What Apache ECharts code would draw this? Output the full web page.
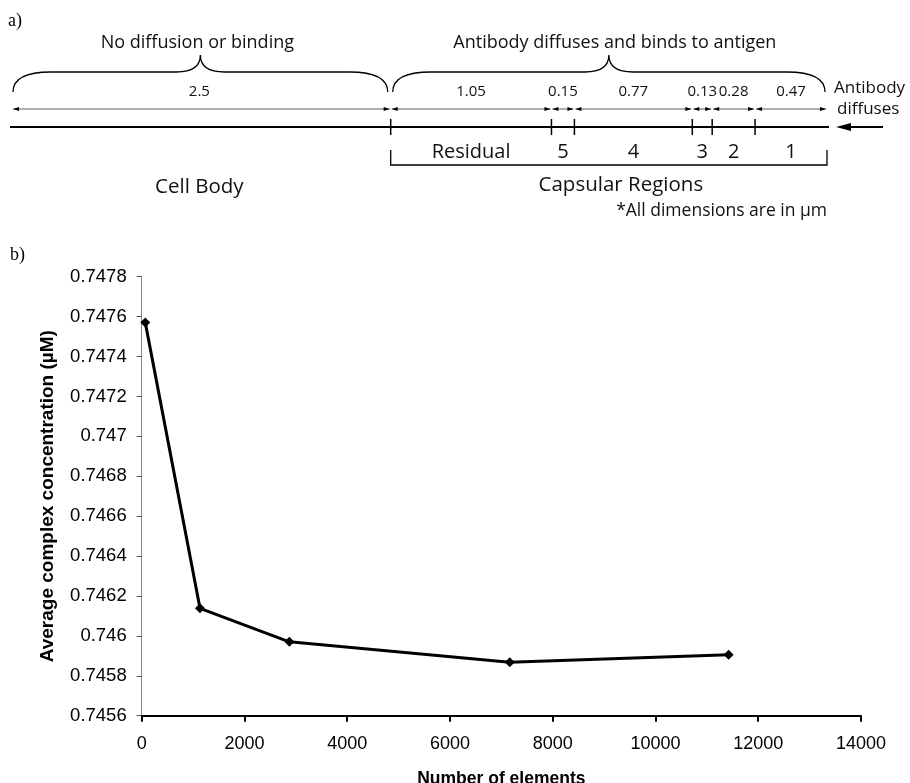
<!DOCTYPE html>
<html><head><meta charset="utf-8">
<script src="https://cdn.jsdelivr.net/npm/echarts@6/dist/echarts.min.js"></script>
<style>html,body{margin:0;padding:0;background:#fff}#c{width:910px;height:783px}</style>
</head><body><div id="c"></div>
<script>
// ---- Panel a) schematic (dimensions in µm) ----
const segLengths = [2.5, 1.05, 0.15, 0.77, 0.13, 0.28, 0.47];
const segLabels = ['2.5', '1.05', '0.15', '0.77', '0.13', '0.28', '0.47'];
const regionLabels = ['', 'Residual', '5', '4', '3', '2', '1'];
const braceLabels = ['No diffusion or binding', 'Antibody diffuses and binds to antigen'];
const braceRanges = [[0, 1], [1, 7]];
const zoneLabels = ['Cell Body', 'Capsular Regions'];
const zoneRanges = [[0, 1], [1, 7]];
const noteText = '*All dimensions are in \u00b5m';
const inflowText = ['Antibody', 'diffuses'];

// ---- Panel b) mesh convergence ----
const elements = [70, 1135, 2874, 7163, 11424];
const concentration = [0.74757, 0.746138, 0.74597, 0.745868, 0.745905];
const xAxisTitle = 'Number of elements';
const yAxisTitle = 'Average complex concentration (\u00b5M)';

const bounds = segLengths.reduce((a, v) => { a.push(a[a.length - 1] + v); return a; }, [0]);
const total = bounds[bounds.length - 1];

const SANS = '"Open Sans", "DejaVu Sans", sans-serif';
function renderSchematic(params, api) {
  const bx = bounds.map(v => api.coord([v, 0])[0]);
  const ch = [];
  const txt = (x, y, s, size, align) => ({ type: 'text', style: { x, y, text: s, font: size + 'px ' + SANS, fill: '#111', align: align || 'center', verticalAlign: 'middle' } });
  const ln = (x1, y1, x2, y2, w, c) => ({ type: 'line', shape: { x1, y1, x2, y2 }, style: { stroke: c || '#000', lineWidth: w || 1 } });
  const tri = (tipX, y, dir, len, hh) => ({ type: 'polygon', shape: { points: [[tipX, y], [tipX - dir * len, y - hh], [tipX - dir * len, y + hh]] }, style: { fill: '#000' } });
  // braces
  braceRanges.forEach(([a, b], i) => {
    const xa = bx[a] + (a === 0 ? 5 : 2), xb = bx[b] - (b === 7 ? 2 : 3);
    const xm = (xa + xb) / 2;
    const d = `M${xa},92 Q${xa},72 ${xa + 38},72 L${xm - 24},72 Q${xm},72 ${xm},55 Q${xm},72 ${xm + 24},72 L${xb - 38},72 Q${xb},72 ${xb},92`;
    ch.push({ type: 'path', shape: { pathData: d }, style: { stroke: '#000', lineWidth: 1.3, fill: null } });
    ch.push(txt(xm + (i ? 6 : -3), 43, braceLabels[i], 18));
  });
  // dimension lines
  segLengths.forEach((v, i) => {
    const x0 = bx[i] + (i === 0 ? 5 : 1), x1 = bx[i + 1] - 1;
    ch.push(ln(x0, 109, x1, 109, 0.8, '#333'));
    ch.push(tri(x0, 109, -1, 6, 2));
    ch.push(tri(x1, 109, 1, 6, 2));
    ch.push(txt((bx[i] + bx[i + 1]) / 2, 92, segLabels[i], 15));
    if (regionLabels[i]) ch.push(txt((bx[i] + bx[i + 1]) / 2, 152, regionLabels[i], 20));
  });
  // main line
  ch.push(ln(bx[0] + 2, 127, bx[7] + 2, 127, 2));
  for (let i = 1; i < bx.length - 1; i++) ch.push(ln(bx[i], 119, bx[i], 135, 1.5));
  // zone brackets / labels
  zoneRanges.forEach(([a, b], i) => {
    if (a > 0) {
      ch.push({ type: 'polyline', shape: { points: [[bx[a], 150], [bx[a], 165], [bx[b], 165], [bx[b], 150]] }, style: { stroke: '#000', lineWidth: 1.3, fill: null } });
      ch.push(txt((bx[a] + bx[b]) / 2 + 12, 185, zoneLabels[i], 20.5));
    } else {
      ch.push(txt((bx[a] + bx[b]) / 2, 187, zoneLabels[i], 20.5));
    }
  });
  ch.push(txt(bx[7], 211, noteText, 17.5, 'right'));
  // inflow arrow
  ch.push(txt(bx[7] + 7, 88, inflowText[0], 17, 'left'));
  ch.push(txt(bx[7] + 10, 109, inflowText[1], 17, 'left'));
  ch.push(ln(bx[7] + 18, 127, bx[7] + 56, 127, 2));
  ch.push(tri(bx[7] + 9, 127, -1, 15, 4));
  return { type: 'group', children: ch };
}

const chart = echarts.init(document.getElementById('c'), null, { renderer: 'canvas' });
chart.setOption({
  backgroundColor: '#fff',
  animation: false,
  graphic: [
    { type: 'text', left: 8, top: 12, style: { text: 'a)', font: '18px "Liberation Serif", serif', fill: '#000' } },
    { type: 'text', left: 10, top: 246, style: { text: 'b)', font: '18px "Liberation Serif", serif', fill: '#000' } }
  ],
  grid: [
    { left: 141.7, right: 49, top: 276.7, bottom: 67.3, outerBoundsMode: 'none', containLabel: false },
    { left: 8, width: 819, top: 0, height: 230, outerBoundsMode: 'none', containLabel: false }
  ],
  xAxis: [
    {
      type: 'value', gridIndex: 0, min: 0, max: 14000, interval: 2000,
      name: xAxisTitle, nameLocation: 'middle', nameGap: 54,
      nameTextStyle: { fontFamily: 'Liberation Sans', fontWeight: 'bold', fontSize: 17.5, color: '#000' },
      axisLine: { lineStyle: { color: '#000', width: 2 } },
      axisTick: { length: 6, lineStyle: { color: '#000', width: 2 } },
      axisLabel: { fontFamily: 'Liberation Sans', fontSize: 18, color: '#000', margin: 19,
        formatter: v => String(v) },
      splitLine: { show: false }
    },
    { type: 'value', gridIndex: 1, min: 0, max: total, show: false }
  ],
  yAxis: [
    {
      type: 'value', gridIndex: 0, min: 0.7456, max: 0.7478, interval: 0.0002,
      name: yAxisTitle, nameLocation: 'middle', nameGap: 84, nameRotate: 90,
      nameTextStyle: { fontFamily: 'Liberation Sans', fontWeight: 'bold', fontSize: 19, color: '#000' },
      axisLine: { show: true, lineStyle: { color: '#888', width: 1 } },
      axisTick: { show: true, length: 5, lineStyle: { color: '#555', width: 1 } },
      axisLabel: { fontFamily: 'Liberation Sans', fontSize: 18.5, color: '#000', margin: 15,
        formatter: v => String(+v.toFixed(4)) },
      splitLine: { show: false }
    },
    { type: 'value', gridIndex: 1, min: 0, max: 1, show: false }
  ],
  series: [
    {
      type: 'line', xAxisIndex: 0, yAxisIndex: 0,
      data: elements.map((x, i) => [x, concentration[i]]),
      symbol: 'diamond', symbolSize: 10,
      lineStyle: { color: '#000', width: 3 },
      itemStyle: { color: '#000' }
    },
    {
      type: 'custom', xAxisIndex: 1, yAxisIndex: 1, clip: false, silent: true,
      data: [[0, 0]], renderItem: renderSchematic
    }
  ]
});
</script></body></html>
